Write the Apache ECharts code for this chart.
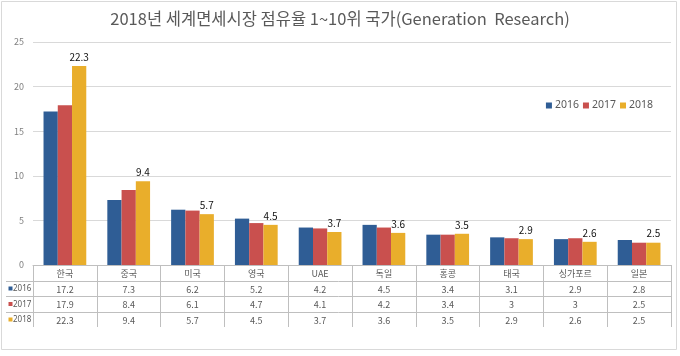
<!DOCTYPE html>
<html><head><meta charset="utf-8">
<script src="https://cdn.jsdelivr.net/npm/echarts@6/dist/echarts.min.js"></script>
<style>html,body{margin:0;padding:0;background:#fff}#c{width:680px;height:356px}</style>
</head><body><div id="c"></div>
<script>
const countries = ['한국','중국','미국','영국','UAE','독일','홍콩','태국','싱가포르','일본'];
const years = ['2016','2017','2018'];
const v2016 = [17.2, 7.3, 6.2, 5.2, 4.2, 4.5, 3.4, 3.1, 2.9, 2.8];
const v2017 = [17.9, 8.4, 6.1, 4.7, 4.1, 4.2, 3.4, 3, 3, 2.5];
const v2018 = [22.3, 9.4, 5.7, 4.5, 3.7, 3.6, 3.5, 2.9, 2.6, 2.5];
const yTicks = [0, 5, 10, 15, 20, 25];

const colors = ['#2F5D95', '#C9504E', '#E9AE2B'];
const seriesVals = [v2016, v2017, v2018];
const FONT = '"Noto Sans CJK KR", "Noto Sans", sans-serif';
const TXT = '#595959';
const LINE = '#BFBFBF';

const G = {left: 33, right: 671, top: 42, bottom: 265};
const rowY = [265, 281, 296, 312, 327];

const chart = echarts.init(document.getElementById('c'), null, {renderer: 'canvas'});

const xAxes = [{
  type: 'category', data: countries, position: 'bottom', gridIndex: 0,
  axisLine: {show: true, lineStyle: {color: LINE, width: 1}},
  axisTick: {show: true, length: rowY[4] - rowY[0], lineStyle: {color: LINE}},
  axisLabel: {interval: 0, margin: 4, fontSize: 9, color: TXT, fontFamily: FONT}
}];
seriesVals.forEach((vals, k) => {
  xAxes.push({
    type: 'category', data: countries, position: 'bottom', gridIndex: 0,
    offset: rowY[k + 1] - rowY[0],
    axisLine: {show: false}, axisTick: {show: false},
    axisLabel: {interval: 0, margin: 4, fontSize: 9, color: TXT, fontFamily: FONT,
      formatter: (v, i) => String(vals[i])}
  });
});

const graphic = [
  {type: 'rect', shape: {x: 1.5, y: 1.5, width: 675, height: 348}, style: {fill: null, stroke: '#D9D9D9', lineWidth: 1}, silent: true}
];
[1, 2, 3].forEach(k => {
  graphic.push({type: 'line', shape: {x1: 6, y1: rowY[k] + 0.5, x2: G.right, y2: rowY[k] + 0.5},
    style: {stroke: LINE, lineWidth: 1}, silent: true});
  graphic.push({type: 'rect', shape: {x: 8.5, y: (rowY[k] + rowY[k + 1]) / 2 - 2, width: 4, height: 4},
    style: {fill: colors[k - 1]}, silent: true});
  graphic.push({type: 'text', x: 13, y: (rowY[k] + rowY[k + 1]) / 2 + 0.5,
    style: {text: years[k - 1], fontSize: 8, fill: TXT, fontFamily: '"Noto Sans", sans-serif', verticalAlign: 'middle', align: 'left'}, silent: true});
});

chart.setOption({
  animation: false,
  textStyle: {fontFamily: FONT},
  title: {
    text: '2018년 세계면세시장 점유율 1~10위 국가(Generation  Research)',
    left: 'center', top: 5,
    textStyle: {fontSize: 16.5, fontWeight: 'normal', color: TXT, fontFamily: FONT}
  },
  legend: {
    data: years, right: 22, top: 95, icon: 'rect', itemWidth: 6, itemHeight: 6, itemGap: 4,
    textStyle: {fontSize: 10.5, color: TXT, fontFamily: '"Noto Sans", sans-serif', padding: [0, 0, 0, -2]}
  },
  grid: {left: G.left, right: 680 - G.right, top: G.top, bottom: 356 - G.bottom, containLabel: false},
  xAxis: xAxes,
  yAxis: {
    type: 'value', min: yTicks[0], max: yTicks[yTicks.length - 1], interval: 5,
    axisLine: {show: false}, axisTick: {show: false},
    splitLine: {lineStyle: {color: '#D9D9D9'}},
    axisLabel: {fontSize: 9, color: '#808080', margin: 9, fontFamily: FONT}
  },
  graphic: graphic,
  series: seriesVals.map((vals, k) => ({
    name: years[k], type: 'bar', data: vals, xAxisIndex: 0,
    barGap: '0%', barCategoryGap: '33%',
    itemStyle: {color: colors[k]},
    label: k === 2 ? {show: true, position: 'top', distance: 4, fontSize: 10, color: '#111', fontFamily: FONT} : {show: false}
  }))
});
</script></body></html>
